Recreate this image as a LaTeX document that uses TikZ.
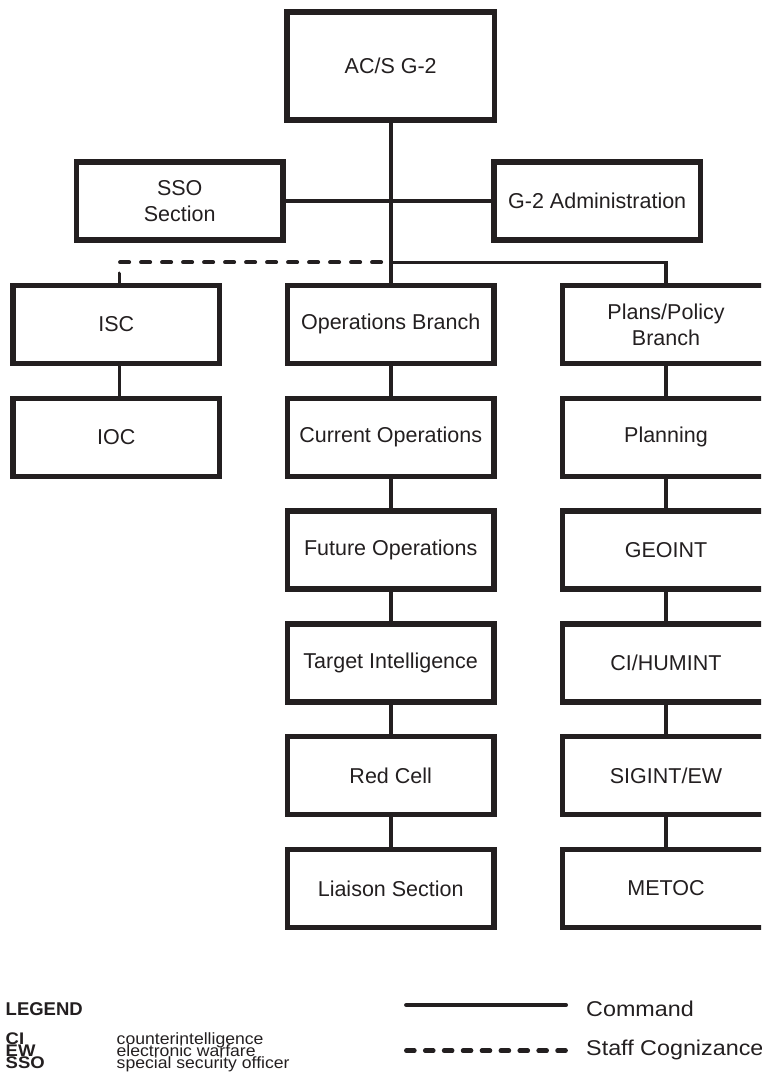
\documentclass[tikz,border=0pt]{standalone}
\usepackage{fontspec}
\setmainfont{Liberation Sans}
\newfontfamily\keyfont[FakeStretch=1.09]{Liberation Sans}
\newfontfamily\deffont[FakeStretch=1.08]{Liberation Sans}
\newfontfamily\abbrfont[FakeStretch=1.1]{Liberation Sans}
\definecolor{ink}{HTML}{231F20}

\begin{document}
\begin{tikzpicture}[x=1pt,y=-1pt,
  unit/.style={draw=ink, line width=5.4pt, minimum width=206.6pt,
    minimum height=78pt, inner sep=2pt, align=center, text=ink,
    font=\fontsize{21.5}{26}\selectfont},
  cmd/.style={draw=ink, line width=3.6pt},
  staff/.style={draw=ink, line width=3.8pt, line cap=round,
    dash pattern=on 9.2pt off 11.8pt},
  keycmd/.style={draw=ink, line width=4.7pt, line cap=round},
  keystaff/.style={draw=ink, line width=4.5pt, line cap=round,
    dash pattern=on 8.1pt off 10.8pt},
  keytext/.style={anchor=base west, inner sep=0pt, text=ink,
    font=\keyfont\fontsize{21.4}{26}\selectfont},
  abbr/.style={anchor=base west, inner sep=0pt, text=ink,
    font=\abbrfont\bfseries\fontsize{16.8}{12}\selectfont},
  meaning/.style={anchor=base west, inner sep=0pt, text=ink,
    font=\deffont\fontsize{16.3}{12}\selectfont}]

\clip (0,0) rectangle (761,1091);

% head of the staff section and its special staff
\node[unit, minimum width=207.3pt, minimum height=108pt] (g2) at (390.7,66) {AC/S G-2};
\node[unit] (sso) at (179.7,201) {SSO\\Section};
\node[unit] (adm) at (597.2,201) {G-2 Administration};

% left column
\node[unit] (isc) at (116.2,324.4) {ISC};
\node[unit] (ioc) at (116.2,437.2) {IOC};

% operations column
\node[unit] (ops) at (390.7,324.4) {Operations Branch};
\node[unit] (cur) at (390.7,437.2) {Current Operations};
\node[unit] (fut) at (390.7,550.0) {Future Operations};
\node[unit] (tgt) at (390.7,662.8) {Target Intelligence};
\node[unit] (red) at (390.7,775.6) {Red Cell};
\node[unit] (lia) at (390.7,888.4) {Liaison Section};

% plans/policy column
\node[unit] (plans) at (666,324.4) {Plans/Policy\\Branch};
\node[unit] (plan)  at (666,437.2) {Planning};
\node[unit] (geo)   at (666,550.0) {GEOINT};
\node[unit] (hum)   at (666,662.8) {CI/HUMINT};
\node[unit] (sig)   at (666,775.6) {SIGINT/EW};
\node[unit] (met)   at (666,888.4) {METOC};

% connectors
\coordinate (bus) at (390.7,262.3);
\draw[cmd] (g2) -- (ops);
\draw[cmd] (sso) -- (adm);
\draw[cmd] (bus) -| (plans);
\draw[staff] ([xshift=3.2pt]isc.north) |- (bus);
\draw[cmd] ([xshift=3.2pt]isc.south) -- ([xshift=3.2pt]ioc.north);
\foreach \a/\b in {ops/cur, cur/fut, fut/tgt, tgt/red, red/lia,
                   plans/plan, plan/geo, geo/hum, hum/sig, sig/met}
  \draw[cmd] (\a) -- (\b);

% legend
\node[anchor=base west, inner sep=0pt, text=ink,
  font=\bfseries\fontsize{18.5}{22}\selectfont] (lgd) at (5.5,1015) {LEGEND};
\node[abbr] (ci)  at (5.5,1044) {CI};
\node[abbr] (ew)  at (5.5,1056.3) {EW};
\node[abbr] (ssoa) at (5.5,1068.6) {SSO};
\node[meaning] (cid)  at (116.5,1044) {counterintelligence};
\node[meaning] (ewd)  at (116.5,1056.3) {electronic warfare};
\node[meaning] (ssod) at (116.5,1068.6) {special security officer};

\coordinate (c1) at (406.4,1005);
\coordinate (c2) at (565.7,1005);
\coordinate (s1) at (406.3,1050.7);
\coordinate (s2) at (565.7,1050.7);
\draw[keycmd] (c1) -- (c2);
\draw[keystaff] (s1) -- (s2);
\node[keytext] (cmdk) at (586,1016) {Command};
\node[keytext] (stk)  at (586,1055) {Staff Cognizance};
\end{tikzpicture}
\end{document}
